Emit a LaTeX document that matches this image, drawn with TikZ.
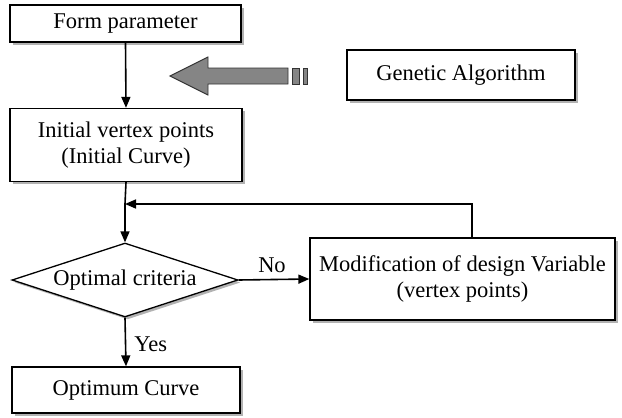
\documentclass[tikz,border=0pt]{standalone}
\usepackage{fontspec}
\setmainfont{Liberation Serif}
\usetikzlibrary{arrows.meta,shapes.geometric,shadows,calc}
\begin{document}
\begin{tikzpicture}[x=1pt,y=-1pt,
  every node/.style={font=\rmfamily\fontsize{22.5}{26}\selectfont, inner sep=0pt},
  sh/.style={drop shadow={shadow xshift=2.5pt,shadow yshift=-2.5pt,fill=gray!60,opacity=1}},
  box/.style={draw=black, line width=1.3pt, fill=white, align=center, sh},
  dia/.style={draw=black, line width=1.3pt, fill=white, diamond, aspect=3.05, sh},
  conn/.style={line width=1.6pt, -{Triangle[length=11pt,width=9pt]}},
  line/.style={line width=1.6pt},
  bigarrow/.style={fill=black!48, draw=black!80, line width=0.9pt}
]
\useasboundingbox (0,0) rectangle (622,418);

\node[box, minimum width=231pt, minimum height=37pt] (form) at (125.5,23.5) {Form parameter};
\node[box, minimum width=232pt, minimum height=73pt] (init) at (126,145) {Initial vertex points\\(Initial Curve)};
\node[box, minimum width=228pt, minimum height=50pt] (ga) at (461,75) {Genetic Algorithm};
\node[dia, minimum width=226pt, minimum height=74pt] (opt) at (125,280) {Optimal criteria};
\node[box, minimum width=305pt, minimum height=82pt] (mod) at (462.5,279) {Modification of design Variable\\(vertex points)};
\node[box, minimum width=228pt, minimum height=46pt] (optc) at (126,390) {Optimum Curve};

\coordinate (j) at (125,204);
\coordinate (up) at (472,204);

\draw[conn] (form.south) -- (init.north);
\draw[line] (init.south) -- (j);
\draw[conn] (j) -- (opt.north);
\draw[conn] (mod.north -| up) -- (up) -- (j);
\draw[conn] (opt.east) -- node[above=6pt, xshift=-2pt] {No} (mod.west);
\draw[conn] (opt.south) -- node[right=8pt, yshift=-2pt] {Yes} (optc.north);

% big grey arrow pointing left
\draw[bigarrow]
  (170,76) -- (208,57) -- (208,68) -- (288,68) -- (288,84) -- (208,84) -- (208,95) -- cycle;
\draw[bigarrow] (292,68) rectangle (299,84);
\draw[bigarrow] (303,68) rectangle (307,84);
\end{tikzpicture}
\end{document}
